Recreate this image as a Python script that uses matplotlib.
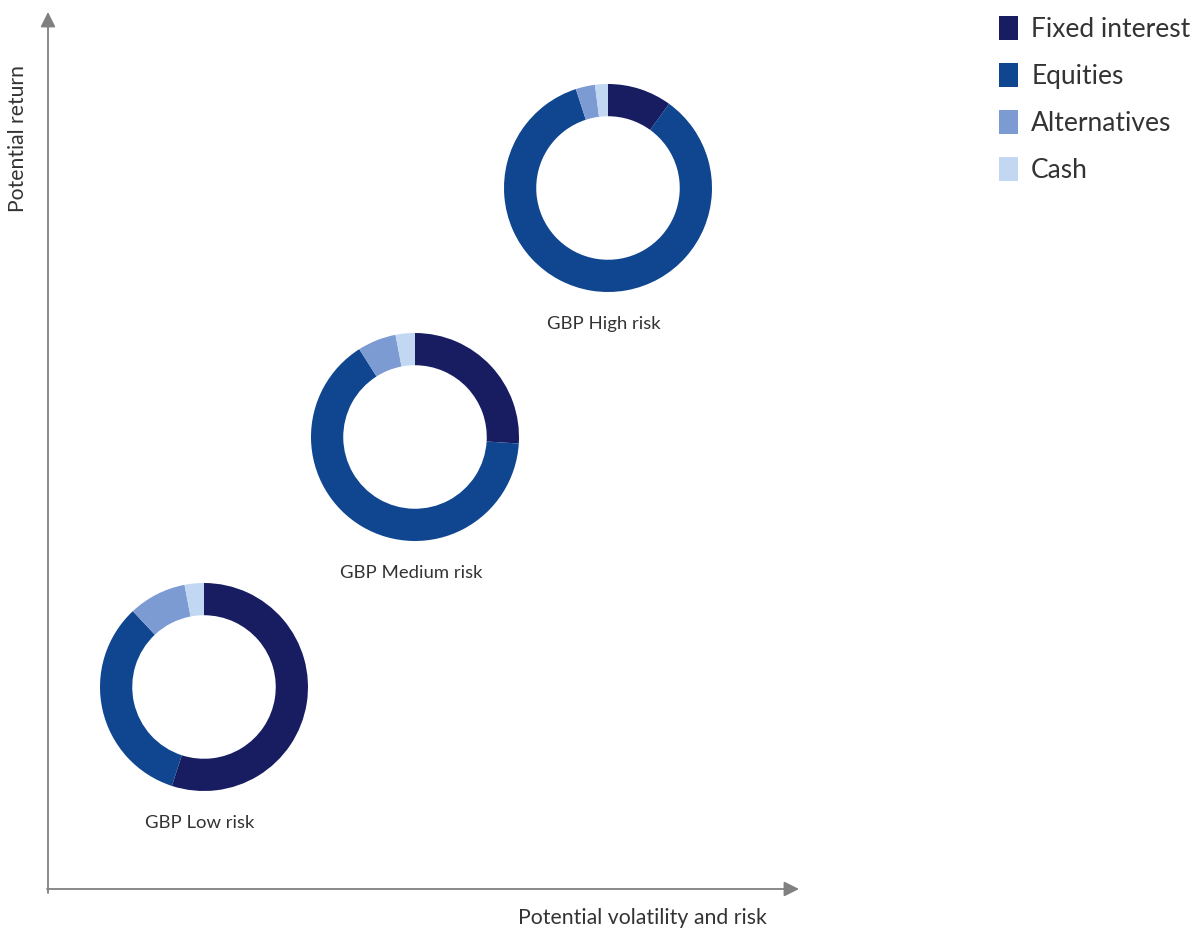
import matplotlib
matplotlib.use('Agg')
import matplotlib.pyplot as plt
from matplotlib.patches import Patch

# asset mix of each portfolio, in percent (clockwise from 12 o'clock)
categories = ['Fixed interest', 'Equities', 'Alternatives', 'Cash']
colors = ['#181d62', '#0f468f', '#7c9bd3', '#c1d7f2']
portfolios = ['GBP Low risk', 'GBP Medium risk', 'GBP High risk']
low_risk = [55, 33, 9, 3]
medium_risk = [26, 65, 6, 3]
high_risk = [10, 85, 3, 2]

plt.rcParams['font.family'] = ['Lato', 'DejaVu Sans']

W, H = 1193, 934
fig = plt.figure(figsize=(W / 100, H / 100), dpi=100)
ax = fig.add_axes([0, 0, 1, 1])
ax.set_xlim(0, W)
ax.set_ylim(H, 0)
ax.set_aspect('equal')
ax.axis('off')

# where each donut sits on the risk/return sketch (pixel layout)
centers = [(204, 687), (415, 437), (608, 188)]
radius = 104
label_gap = 136

for name, vals, (cx, cy) in zip(portfolios, [low_risk, medium_risk, high_risk], centers):
    # y axis is flipped, so counterclock=True draws clockwise on screen
    ax.pie(vals, colors=colors, startangle=-90, counterclock=True,
           center=(cx, cy), radius=radius, frame=True,
           wedgeprops=dict(width=radius * 0.31, linewidth=0))
    ax.text(cx - 4, cy + label_gap, name, ha='center', va='center',
            fontsize=13.3, color='#333333')

ax.set_xlim(0, W)
ax.set_ylim(H, 0)
ax.axis('off')

# axes arrows
arrow = dict(arrowstyle='-|>,head_length=0.9,head_width=0.45', color='#808080', lw=1.3,
             shrinkA=0, shrinkB=0)
ax.annotate('', xy=(48, 12), xytext=(48, 893), arrowprops=arrow)
ax.annotate('', xy=(799, 889), xytext=(47, 889), arrowprops=arrow)

ax.text(18, 138, 'Potential return', rotation=90, ha='center', va='center',
        fontsize=15.2, color='#333333')
ax.text(642, 918, 'Potential volatility and risk', ha='center', va='center',
        fontsize=15.3, color='#333333')

handles = [Patch(facecolor=c, edgecolor='none') for c in colors]
leg = ax.legend(handles, categories, loc='upper left', bbox_to_anchor=(999 / W, 1 - 16 / H),
                bbox_transform=fig.transFigure, frameon=False, fontsize=19,
                handlelength=0.72, handleheight=1.02, handletextpad=0.5,
                labelspacing=0.8, borderpad=0, borderaxespad=0)
for t in leg.get_texts():
    t.set_color('#333333')

fig.savefig('out.png', dpi=100)
